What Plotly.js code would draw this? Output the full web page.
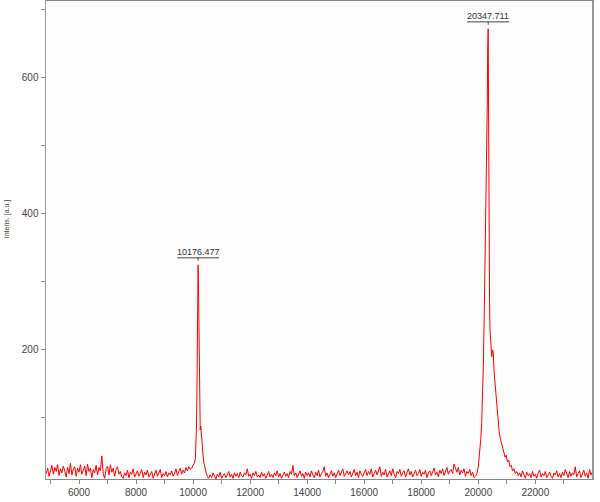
<!DOCTYPE html>
<html>
<head>
<meta charset="utf-8">
<script src="https://cdn.plot.ly/plotly-3.0.1.min.js"></script>
<style>html,body{margin:0;padding:0;background:#fff;}#chart{width:600px;height:502px;}</style>
</head>
<body>
<div id="chart"></div>
<script>
// Baseline segment 1 (m/z, intensity)
const mzA = [4850,4900,4950,5000,5050,5100,5150,5200,5250,5300,5350,5400,5450,5500,5550,5600,5650,5700,5750,5800,5850,5900,5950,6000,6050,6100,6150,6200,6250,6300,6350,6400,6450,6500,6550,6600,6650,6700,6750,6800,6850,6900,6950,7000,7050,7100,7150,7200,7250,7300,7350,7400,7450,7500,7550,7600,7650,7700,7750,7800,7850,7900,7950,8000,8050,8100,8150,8200,8250,8300,8350,8400,8450,8500,8550,8600,8650,8700,8750,8800,8850,8900,8950,9000,9050,9100,9150,9200,9250,9300,9350,9400,9450,9500,9550,9600,9650,9700,9750,9800,9850];
const intA = [18,26,14,24,30,17,27,21,31,15,25,19,29,22,13,27,18,33,16,24,28,14,26,20,31,17,23,29,15,32,21,26,12,24,19,30,16,27,22,44,18,11,25,29,16,31,20,26,14,24,28,17,21,13,11,19,15,23,12,20,17,25,13,19,22,14,18,24,12,20,16,23,13,18,21,11,17,23,14,19,24,12,18,15,21,13,19,16,22,14,18,25,15,21,26,17,23,19,27,22,28];
// Peak 1 region
const mzP1 = [9900,9950,10000,10040,10080,10100,10120,10140,10155,10165,10176,10188,10200,10215,10235,10250,10270,10290,10320,10350,10380,10420,10460,10500,10550];
const intP1 = [24,26,30,33,40,55,88,160,271,290,325,300,230,150,110,82,88,75,58,45,34,24,19,14,11];
// Baseline segment 2
const mzB = [10600,10650,10700,10750,10800,10850,10900,10950,11000,11050,11100,11150,11200,11250,11300,11350,11400,11450,11500,11550,11600,11650,11700,11750,11800,11850,11900,11950,12000,12050,12100,12150,12200,12250,12300,12350,12400,12450,12500,12550,12600,12650,12700,12750,12800,12850,12900,12950,13000,13050,13100,13150,13200,13250,13300,13350,13400,13450,13500,13550,13600,13650,13700,13750,13800,13850,13900,13950,14000,14050,14100,14150,14200,14250,14300,14350,14400,14450,14500,14550,14600,14650,14700,14750,14800,14850,14900,14950,15000,15050,15100,15150,15200,15250,15300,15350,15400,15450,15500,15550,15600,15650,15700,15750,15800,15850,15900,15950,16000,16050,16100,16150,16200,16250,16300,16350,16400,16450,16500,16550,16600,16650,16700,16750,16800,16850,16900,16950,17000,17050,17100,17150,17200,17250,17300,17350,17400,17450,17500,17550,17600,17650,17700,17750,17800,17850,17900,17950,18000,18050,18100,18150,18200,18250,18300,18350,18400,18450,18500,18550,18600,18650,18700,18750,18800,18850,18900,18950,19000,19050,19100,19150,19200,19250,19300,19350,19400,19450,19500,19550,19600,19650,19700,19750,19800,19850];
const intB = [16,12,19,14,10,17,13,20,11,15,18,12,16,21,13,17,11,19,14,18,12,20,15,13,19,16,25,14,17,11,19,15,21,13,16,12,20,14,18,11,16,21,13,17,12,19,15,22,13,18,11,16,20,14,18,12,21,17,30,15,19,12,17,22,14,18,11,20,15,19,13,22,16,12,20,15,23,13,18,21,28,14,19,12,17,22,14,19,12,18,23,15,20,25,14,19,22,16,21,13,18,24,15,20,12,22,17,14,19,24,15,21,17,25,13,19,23,16,21,28,14,20,16,24,13,19,22,15,25,17,12,21,18,24,14,19,22,13,20,25,16,21,13,19,23,15,18,24,14,20,17,23,12,19,22,15,21,26,16,20,13,23,18,25,15,21,27,17,22,24,18,32,26,20,27,16,23,19,25,14,21,18,24,15,20,12];
// Peak 2 region
const mzP2 = [19900,19950,20000,20030,20060,20090,20120,20150,20176,20205,20236,20260,20290,20315,20330,20347,20360,20376,20395,20411,20440,20470,20500,20527,20550,20586,20620,20660,20691,20730,20770,20810,20850,20900,20940,20980,21020,21070,21110,21160,21200,21250,21300,21350,21400];
const intP2 = [14,18,28,40,53,70,93,130,175,240,322,410,484,560,641,672,560,328,270,229,205,190,200,196,170,151,125,105,93,80,70,63,55,50,42,45,35,38,28,30,22,25,18,21,15];
// Baseline segment 3
const mzC = [21450,21500,21550,21600,21650,21700,21750,21800,21850,21900,21950,22000,22050,22100,22150,22200,22250,22300,22350,22400,22450,22500,22550,22600,22650,22700,22750,22800,22850,22900,22950,23000,23050,23100,23150,23200,23250,23300,23350,23400,23450,23500,23550,23600,23650,23700,23750,23800,23850,23900,23950,23990];
const intC = [19,13,22,16,11,20,15,18,12,21,14,17,11,19,23,13,18,15,21,12,17,20,14,11,19,16,22,13,18,12,20,15,24,17,12,21,14,19,16,28,13,18,22,12,17,23,14,19,11,24,16,20];

// Peak labels
const peakMz = [10176.477, 20347.711];
const peakInt = [325, 672];
const peakLabels = ['10176.477', '20347.711'];

// Axis ticks
const xTickVals = [6000, 8000, 10000, 12000, 14000, 16000, 18000, 20000, 22000];
const xTickText = ['6000', '8000', '10000', '12000', '14000', '16000', '18000', '20000', '22000'];
const yTickVals = [200, 400, 600];
const yTickText = ['200', '400', '600'];

const mz = [].concat(mzA, mzP1, mzB, mzP2, mzC);
const inten = [].concat(intA, intP1, intB, intP2, intC);

const trace = {
  x: mz, y: inten, type: 'scatter', mode: 'lines',
  line: {color: '#ff0000', width: 1},
  hoverinfo: 'x+y', showlegend: false
};

const annotations = peakMz.map((m, i) => ({
  x: m, y: peakInt[i], xref: 'x', yref: 'y',
  text: peakLabels[i], showarrow: false,
  yanchor: 'bottom', yshift: 6,
  font: {family: 'Arial, Liberation Sans, sans-serif', size: 9, color: '#333'}
}));
annotations.push({
  xref: 'paper', yref: 'paper', x: -0.07, y: 0.545,
  xanchor: 'center', yanchor: 'middle', textangle: -90,
  text: 'Intens. [a.u.]', showarrow: false,
  font: {family: 'Arial, Liberation Sans, sans-serif', size: 7, color: '#444'}
});

const shapes = [];
peakMz.forEach((m, i) => {
  shapes.push({type: 'line', xref: 'x', yref: 'y', xsizemode: 'pixel', ysizemode: 'pixel',
    xanchor: m, yanchor: peakInt[i], x0: -21, x1: 21, y0: 7, y1: 7,
    line: {color: '#444', width: 1}});
  shapes.push({type: 'line', xref: 'x', yref: 'y', xsizemode: 'pixel', ysizemode: 'pixel',
    xanchor: m, yanchor: peakInt[i], x0: 0, x1: 0, y0: 4, y1: 7,
    line: {color: '#444', width: 1}});
});

const tickFont = {family: 'Arial, Liberation Sans, sans-serif', size: 10, color: '#444'};

const layout = {
  width: 600, height: 502,
  margin: {l: 46, r: 8, t: 1, b: 23},
  paper_bgcolor: '#ffffff', plot_bgcolor: '#fdfdfd',
  xaxis: {
    range: [4843, 23987], tickmode: 'array', tickvals: xTickVals, ticktext: xTickText,
    ticks: 'outside', ticklen: 4,
    tickcolor: '#888', tickfont: tickFont, showgrid: false, zeroline: false,
    showline: true, linecolor: '#888', linewidth: 1, mirror: true,
    minor: {dtick: 1000, tick0: 0, ticks: 'outside', ticklen: 4, tickcolor: '#888', showgrid: false}
  },
  yaxis: {
    range: [10, 713], tickmode: 'array', tickvals: yTickVals, ticktext: yTickText,
    ticks: 'outside', ticklen: 4,
    tickcolor: '#888', tickfont: tickFont, showgrid: false, zeroline: false,
    showline: true, linecolor: '#999', linewidth: 1.5, mirror: true,
    minor: {dtick: 100, tick0: 0, ticks: 'outside', ticklen: 4, tickcolor: '#888', showgrid: false}
  },
  annotations: annotations,
  shapes: shapes,
  showlegend: false
};

Plotly.newPlot('chart', [trace], layout, {displayModeBar: false, staticPlot: true});
</script>
</body>
</html>
